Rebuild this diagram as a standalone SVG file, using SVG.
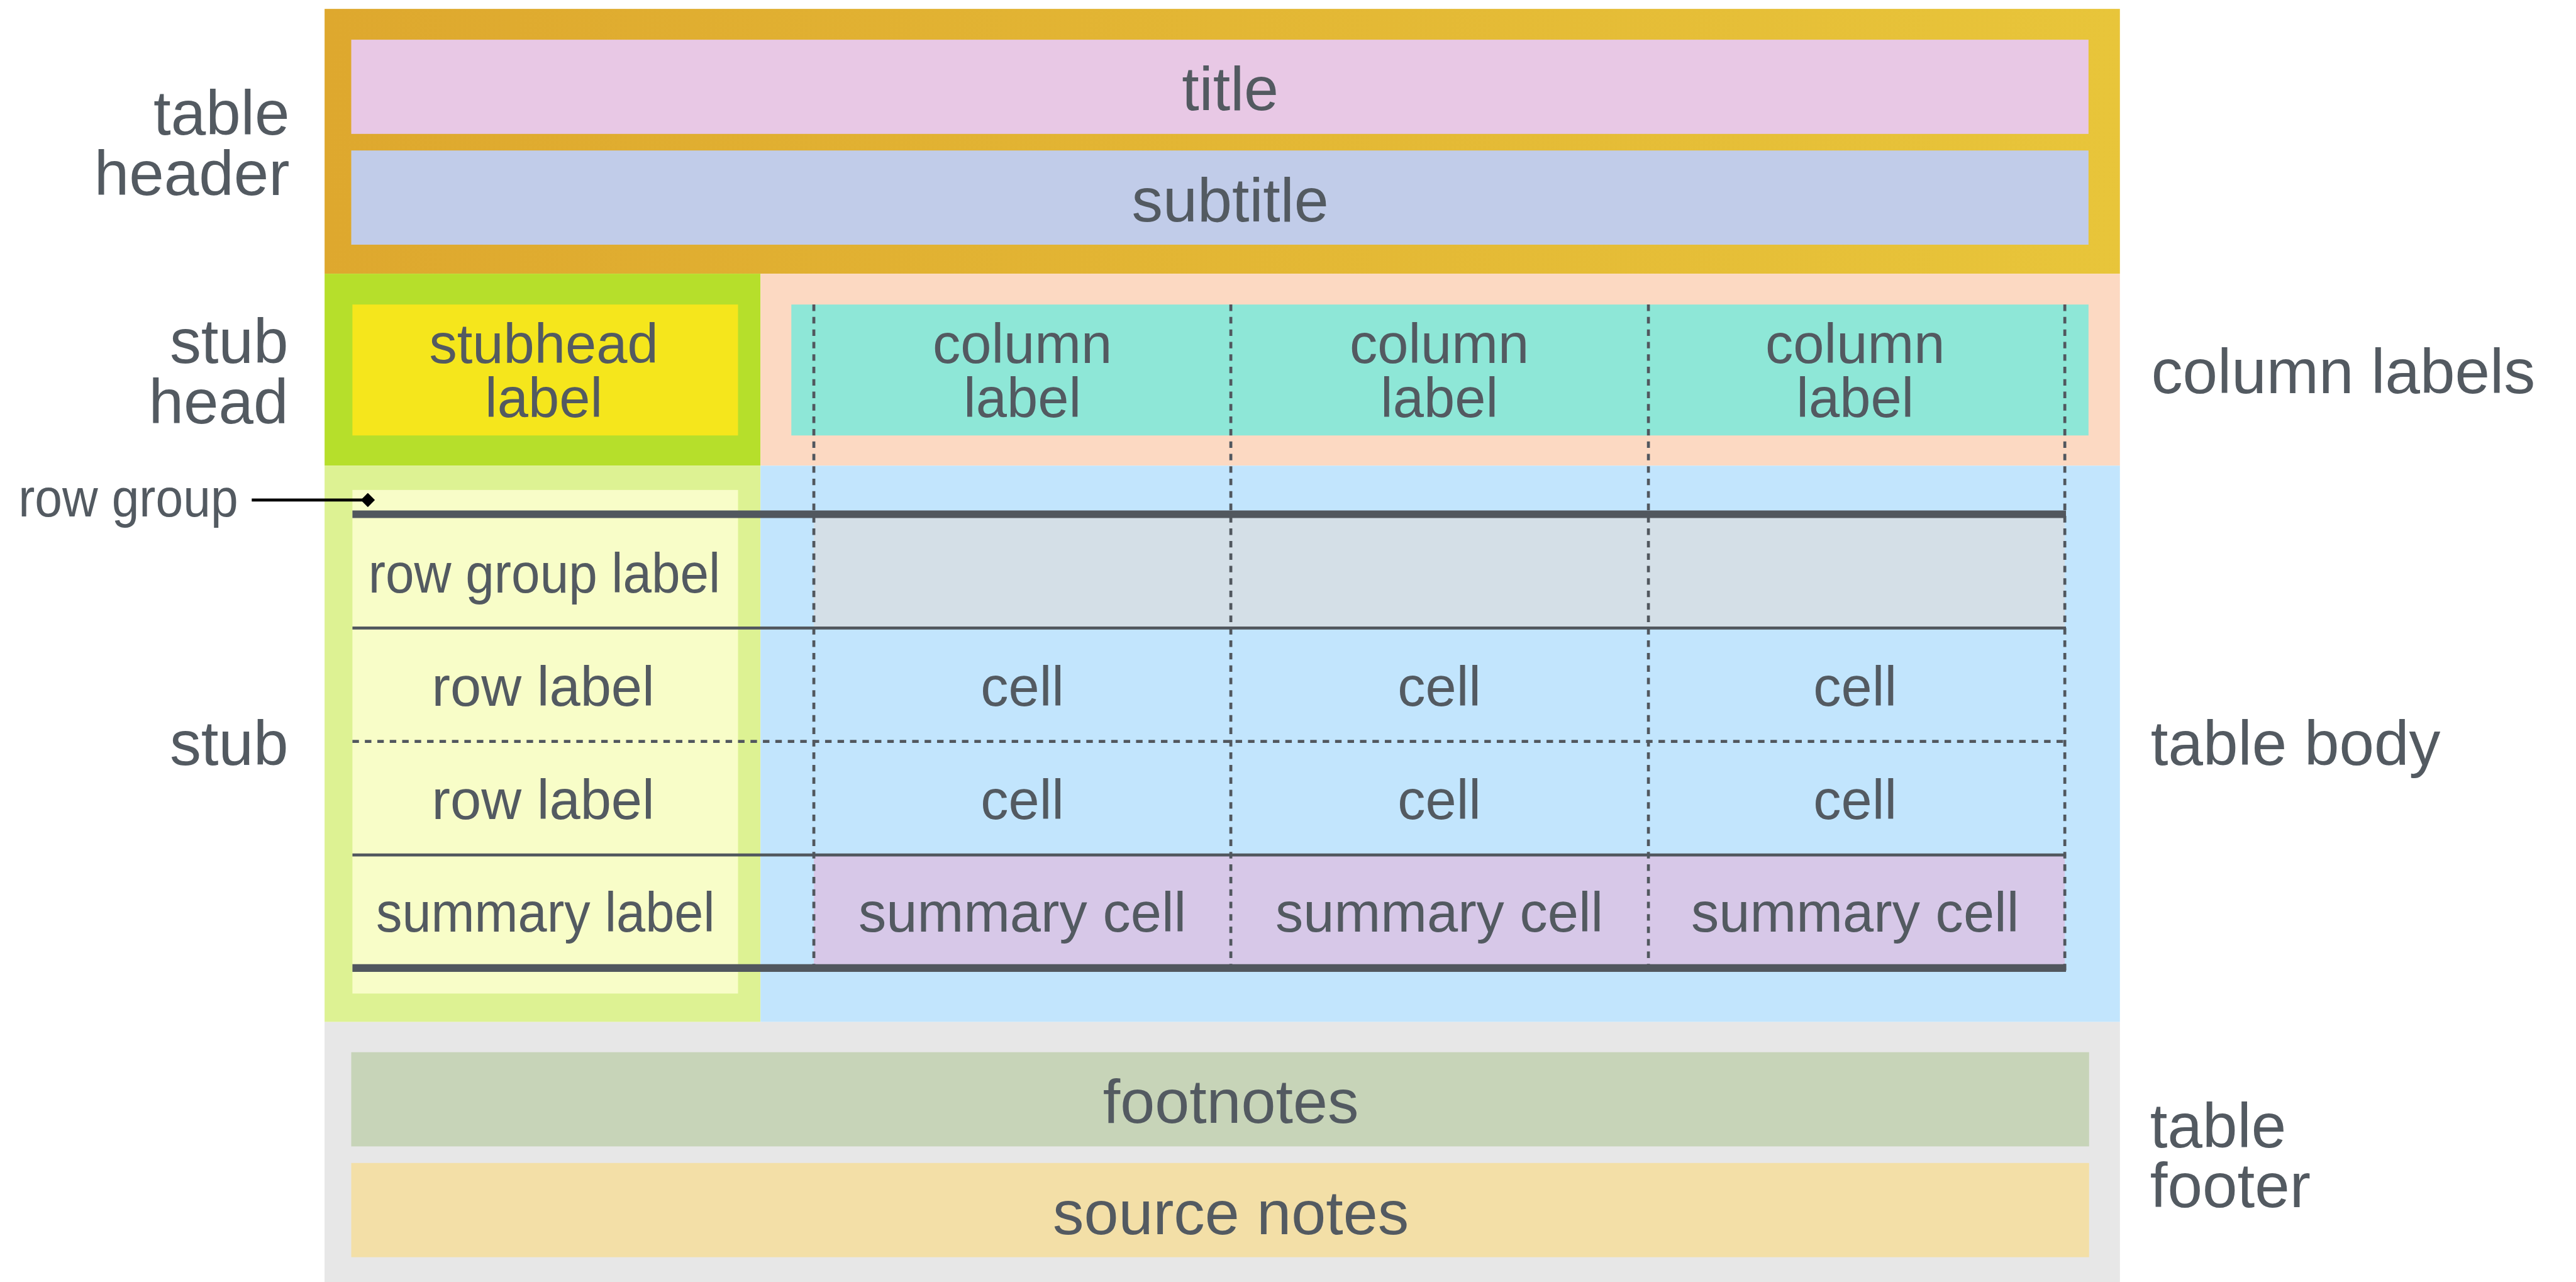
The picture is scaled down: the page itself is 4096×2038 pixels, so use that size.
<svg xmlns="http://www.w3.org/2000/svg" width="4096" height="2038" viewBox="0 0 4096 2038">
  <defs>
    <linearGradient id="hdrGrad" x1="0" y1="0" x2="1" y2="0">
      <stop offset="0" stop-color="#DEA82E"/>
      <stop offset="1" stop-color="#E8C53A"/>
    </linearGradient>
    <marker id="diamond" viewBox="0 0 24 24" refX="12" refY="12" markerWidth="24" markerHeight="24" markerUnits="userSpaceOnUse" orient="auto">
      <polygon points="0,12 12,0 24,12 12,24" fill="#000"/>
    </marker>
    <style>
      text { font-family: "Liberation Sans", Arial, Helvetica, sans-serif; fill: #535A61; }
      .part { font-size: 106px; }
      .cell { font-size: 94px; text-anchor: middle; }
      .band { font-size: 105px; text-anchor: middle; }
      .end { text-anchor: end; }
      .thick { stroke: #51575E; stroke-width: 13; fill: none; }
      .thin { stroke: #51575E; stroke-width: 5; fill: none; }
      .dash { stroke: #51575E; stroke-width: 5; stroke-dasharray: 11 10; fill: none; }
    </style>
  </defs>
  <rect width="4096" height="2038" fill="#FFFFFF"/>
  <g transform="scale(0.94182)">
    <!-- table header -->
    <g id="table-header">
      <rect x="548" y="15" width="3031" height="447" fill="url(#hdrGrad)"/>
      <text class="part end"><tspan x="489" y="227">table</tspan><tspan x="489" y="329">header</tspan></text>
    </g>
    <g id="title">
      <rect x="593" y="67" width="2933" height="159" fill="#E8C8E5"/>
      <text class="band" x="2077" y="186">title</text>
    </g>
    <g id="subtitle">
      <rect x="593" y="254" width="2933" height="159" fill="#C1CCE9"/>
      <text class="band" x="2077" y="374">subtitle</text>
    </g>

    <!-- stub head -->
    <g id="stub-head">
      <rect x="548" y="462" width="736" height="324" fill="#B6DF2B"/>
      <text class="part end"><tspan x="487" y="613">stub</tspan><tspan x="487" y="715">head</tspan></text>
    </g>
    <g id="stubhead-label">
      <rect x="595" y="514" width="651" height="221" fill="#F5E61C"/>
      <text class="cell"><tspan x="918" y="613">stubhead</tspan><tspan x="918" y="704">label</tspan></text>
    </g>

    <!-- column labels -->
    <g id="column-labels">
      <rect x="1284" y="462" width="2295" height="324" fill="#FCD9C2"/>
      <rect x="1336" y="514" width="2190" height="221" fill="#8EE7D7"/>
      <text class="part" x="3632" y="664">column labels</text>
    </g>
    <g id="column-label-1">
      <text class="cell"><tspan x="1726" y="613">column</tspan><tspan x="1726" y="704">label</tspan></text>
    </g>
    <g id="column-label-2">
      <text class="cell"><tspan x="2430" y="613">column</tspan><tspan x="2430" y="704">label</tspan></text>
    </g>
    <g id="column-label-3">
      <text class="cell"><tspan x="3132" y="613">column</tspan><tspan x="3132" y="704">label</tspan></text>
    </g>

    <!-- stub -->
    <g id="stub">
      <rect x="548" y="786" width="736" height="939" fill="#DDF293"/>
      <rect x="595" y="827" width="651" height="850" fill="#F8FDC8"/>
      <text class="part end" x="487" y="1291">stub</text>
    </g>

    <!-- table body -->
    <g id="table-body">
      <rect x="1284" y="786" width="2295" height="939" fill="#C2E5FD"/>
      <rect x="1374" y="868" width="2112" height="192" fill="#D4DFE7"/>
      <rect x="1374" y="1443" width="2112" height="191" fill="#D7C8E8"/>
      <text class="part" x="3631" y="1291">table body</text>
    </g>

    <g id="row-group-label">
      <text class="cell" x="919" y="1000" textLength="594" lengthAdjust="spacingAndGlyphs">row group label</text>
    </g>
    <g id="row-label-1">
      <text class="cell" x="917" y="1191">row label</text>
    </g>
    <g id="row-label-2">
      <text class="cell" x="917" y="1382">row label</text>
    </g>
    <g id="summary-label">
      <text class="cell" x="921" y="1572" textLength="572" lengthAdjust="spacingAndGlyphs">summary label</text>
    </g>

    <g id="cells">
      <text class="cell" x="1726" y="1191">cell</text>
      <text class="cell" x="2430" y="1191">cell</text>
      <text class="cell" x="3132" y="1191">cell</text>
      <text class="cell" x="1726" y="1382">cell</text>
      <text class="cell" x="2430" y="1382">cell</text>
      <text class="cell" x="3132" y="1382">cell</text>
    </g>
    <g id="summary-cells">
      <text class="cell" x="1726" y="1572">summary cell</text>
      <text class="cell" x="2430" y="1572">summary cell</text>
      <text class="cell" x="3132" y="1572">summary cell</text>
    </g>

    <!-- table rules -->
    <g id="rules">
      <line class="dash" x1="1374" y1="514" x2="1374" y2="1640"/>
      <line class="dash" x1="2078" y1="514" x2="2078" y2="1640"/>
      <line class="dash" x1="2783" y1="514" x2="2783" y2="1640"/>
      <line class="dash" x1="3486" y1="514" x2="3486" y2="1640"/>
      <line class="thick" x1="595" y1="868" x2="3488" y2="868"/>
      <line class="thin" x1="595" y1="1060" x2="3488" y2="1060"/>
      <line class="dash" x1="595" y1="1251.5" x2="3488" y2="1251.5"/>
      <line class="thin" x1="595" y1="1443" x2="3488" y2="1443"/>
      <line class="thick" x1="595" y1="1634" x2="3488" y2="1634"/>
    </g>

    <!-- table footer -->
    <g id="table-footer">
      <rect x="548" y="1725" width="3031" height="439" fill="#E7E7E7"/>
      <text class="part"><tspan x="3630" y="1937">table</tspan><tspan x="3630" y="2038">footer</tspan></text>
    </g>
    <g id="footnotes">
      <rect x="593" y="1776" width="2934" height="159" fill="#C7D4B8"/>
      <text class="band" x="2078" y="1895">footnotes</text>
    </g>
    <g id="source-notes">
      <rect x="593" y="1963" width="2934" height="159" fill="#F3DFA7"/>
      <text class="band" x="2078" y="2083">source notes</text>
    </g>

    <!-- row group callout -->
    <g id="row-group">
      <text x="31" y="872" font-size="90" textLength="371" lengthAdjust="spacingAndGlyphs">row group</text>
    </g>
    <g id="connectors">
      <line x1="425" y1="844" x2="621" y2="844" stroke="#000" stroke-width="5" marker-end="url(#diamond)"/>
    </g>
  </g>
</svg>
